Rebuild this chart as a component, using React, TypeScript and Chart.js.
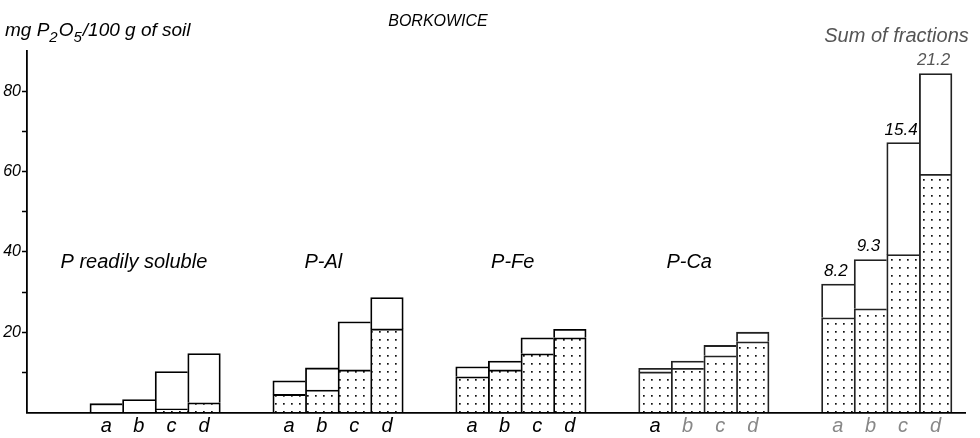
import React, { useEffect, useRef } from "react";
import { Chart, registerables } from "chart.js";

Chart.register(...registerables);

// ---------- data ----------
const CHART_TITLE = "BORKOWICE";
const GROUP_TITLES = ["P readily soluble", "P-Al", "P-Fe", "P-Ca", "Sum of fractions"];
const BAR_LABELS = ["a", "b", "c", "d"];

const READILY_TOTAL = [2.2, 3.2, 10.2, 14.7];
const READILY_DOTTED = [0, 0, 0.9, 2.4];
const AL_TOTAL = [7.9, 11.1, 22.6, 28.6];
const AL_DOTTED = [4.5, 5.6, 10.6, 20.8];
const FE_TOTAL = [11.4, 12.8, 18.6, 20.7];
const FE_DOTTED = [8.9, 10.6, 14.6, 18.6];
const CA_TOTAL = [11.0, 12.8, 16.7, 20.0];
const CA_DOTTED = [10.1, 11.0, 14.1, 17.6];
const SUM_TOTAL = [32.0, 38.1, 67.2, 84.4];
const SUM_DOTTED = [23.6, 25.8, 39.3, 59.3];
const SUM_NOTES = ["8.2", "9.3", "15.4", "21.2"];

const Y_TICK_LABELS = [20, 40, 60, 80];
const Y_MAX = 90;

// ---------- layout (in bar-width units along x) ----------
const X_FIRST = 1.93;
const X_STEP = 5.61;
const X_MAX = 28.77;
const TITLE_SHIFT = [-0.65, -0.45, -0.25, -0.45, 0.3];
const FONT = "'Liberation Sans', Arial, sans-serif";

const TOTALS = [READILY_TOTAL, AL_TOTAL, FE_TOTAL, CA_TOTAL, SUM_TOTAL];
const DOTTED = [READILY_DOTTED, AL_DOTTED, FE_DOTTED, CA_DOTTED, SUM_DOTTED];

const centers: number[] = [];
TOTALS.forEach((_, g) => BAR_LABELS.forEach((_, i) => centers.push(X_FIRST + g * X_STEP + i + 0.5)));

function makeDotPattern(ctx: CanvasRenderingContext2D) {
  const c = document.createElement("canvas");
  c.width = 8;
  c.height = 8;
  const p = c.getContext("2d")!;
  p.fillStyle = "#fff";
  p.fillRect(0, 0, 8, 8);
  p.fillStyle = "#111";
  p.fillRect(3, 3, 1.7, 1.7);
  return ctx.createPattern(c, "repeat")!;
}

const annotate = {
  id: "annotate",
  afterDraw(chart: any) {
    const { ctx, scales } = chart;
    const x = scales.x;
    const y = scales.y;
    ctx.save();
    ctx.textBaseline = "alphabetic";

    // chart title
    ctx.fillStyle = "#000";
    ctx.font = `italic 16px ${FONT}`;
    ctx.textAlign = "center";
    ctx.fillText(CHART_TITLE, 438, 26);

    // y-axis title with subscripts
    const segs: [string, boolean][] = [
      ["mg P", false],
      ["2", true],
      ["O", false],
      ["5", true],
      ["/100 g of soil", false],
    ];
    ctx.textAlign = "left";
    let cx = 5;
    segs.forEach(([t, sub]) => {
      ctx.font = sub ? `italic 15px ${FONT}` : `italic 19px ${FONT}`;
      ctx.fillText(t, cx, sub ? 42 : 36);
      cx += ctx.measureText(t).width + (sub ? 1 : 0);
    });

    // group titles
    ctx.textAlign = "center";
    GROUP_TITLES.forEach((t, g) => {
      const isSum = g === GROUP_TITLES.length - 1;
      const px = x.getPixelForValue(X_FIRST + g * X_STEP + 2 + TITLE_SHIFT[g]);
      const py = y.getPixelForValue(isSum ? 92.3 : 36);
      ctx.font = `italic 20px ${FONT}`;
      ctx.fillStyle = isSum ? "#555" : "#000";
      ctx.fillText(t, px, py);
    });

    // notes above the sum bars
    const meta = chart.getDatasetMeta(1);
    ctx.font = `italic 17px ${FONT}`;
    SUM_NOTES.forEach((n, i) => {
      const el = meta.data[16 + i];
      ctx.fillStyle = i === 3 ? "#555" : "#000";
      ctx.fillText(n, el.x - 2, el.y - 8);
    });
    ctx.restore();
  },
};

export default function App() {
  const ref = useRef<HTMLCanvasElement | null>(null);

  useEffect(() => {
    const canvas = ref.current!;
    const ctx = canvas.getContext("2d")!;
    const dots = makeDotPattern(ctx);

    const lower: { x: number; y: number }[] = [];
    const upper: { x: number; y: number }[] = [];
    TOTALS.forEach((tot, g) =>
      tot.forEach((v, i) => {
        const xc = centers[g * 4 + i];
        lower.push({ x: xc, y: DOTTED[g][i] });
        upper.push({ x: xc, y: v - DOTTED[g][i] });
      })
    );

    const lineColor = (c: any) => (c.dataIndex >= 12 ? "#222" : "#000");
    const bw = 1.8;
    const borders = (c: any) => ({
      top: bw,
      left: bw,
      right: c.dataIndex % 4 === 3 ? bw : 0,
      bottom: 0,
    });

    const chart = new Chart(ctx, {
      type: "bar",
      data: {
        datasets: [
          {
            data: lower as any,
            backgroundColor: dots as any,
            borderColor: lineColor as any,
            borderWidth: borders as any,
            borderSkipped: false,
            barPercentage: 1,
            categoryPercentage: 1,
          },
          {
            data: upper as any,
            backgroundColor: "#fff",
            borderColor: lineColor as any,
            borderWidth: borders as any,
            borderSkipped: false,
            barPercentage: 1,
            categoryPercentage: 1,
          },
        ],
      },
      options: {
        responsive: false,
        animation: false,
        layout: { padding: { top: 51, right: 15, left: 0, bottom: 0 } },
        plugins: {
          legend: { display: false },
          tooltip: { enabled: false },
          title: { display: false },
        },
        scales: {
          x: {
            type: "linear",
            min: 0,
            max: X_MAX,
            offset: false,
            stacked: true,
            grid: { display: false, drawTicks: false },
            border: { display: true, color: "#000", width: 1.8 },
            afterBuildTicks: (s: any) => {
              s.ticks = centers.map((v) => ({ value: v }));
            },
            afterFit: (s: any) => {
              s.height = 25.5;
            },
            ticks: {
              autoSkip: false,
              maxRotation: 0,
              padding: 2,
              color: ((c: any) => (c.index >= 13 ? "#888" : "#000")) as any,
              font: { family: FONT, size: 20, style: "italic" },
              callback: (_v: any, i: number) => BAR_LABELS[i % 4],
            },
          },
          y: {
            min: 0,
            max: Y_MAX,
            stacked: true,
            afterFit: (s: any) => {
              s.width = 27;
            },
            grid: {
              drawOnChartArea: false,
              drawTicks: true,
              tickLength: 5,
              tickWidth: 1.5,
              tickColor: ((c: any) =>
                c.tick && (c.tick.value === 0 || c.tick.value === Y_MAX) ? "rgba(0,0,0,0)" : "#000") as any,
            },
            border: { display: true, color: "#000", width: 1.8 },
            ticks: {
              stepSize: 10,
              padding: 1,
              color: "#000",
              font: { family: FONT, size: 16, style: "italic" },
              callback: (v: any) => (Y_TICK_LABELS.includes(Number(v)) ? String(v) : ""),
            },
          },
        },
      },
      plugins: [annotate],
    });
    return () => chart.destroy();
  }, []);

  return (
    <div style={{ position: "absolute", left: 0, top: 0, width: 980, height: 438, background: "#fff" }}>
      <canvas ref={ref} width={980} height={438} style={{ display: "block" }} />
    </div>
  );
}
